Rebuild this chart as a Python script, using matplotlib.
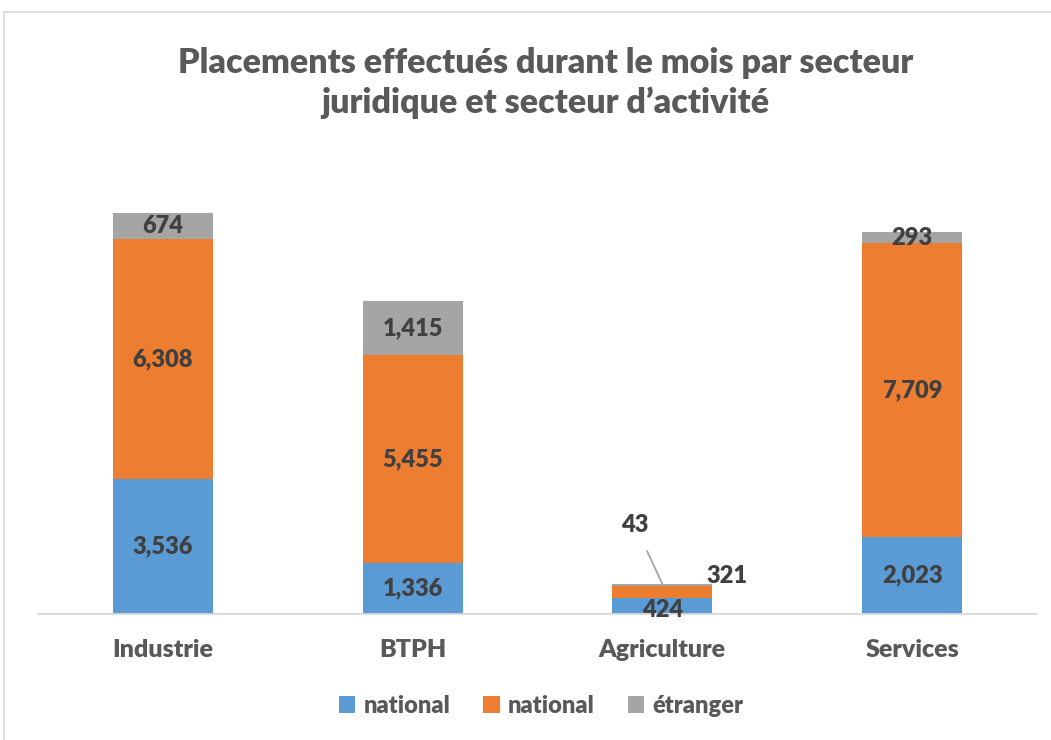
import matplotlib
matplotlib.use("Agg")
import matplotlib.pyplot as plt
from matplotlib.patches import Patch, Rectangle

categories = ["Industrie", "BTPH", "Agriculture", "Services"]
public_national = [3536, 1336, 424, 2023]
private_national = [6308, 5455, 321, 7709]
etranger = [674, 1415, 43, 293]
legend_labels = ["national", "national", "étranger"]

colors = ["#5B9BD5", "#ED7D31", "#A5A5A5"]
label_color = "#404040"
text_color = "#595959"

plt.rcParams["font.family"] = ["Lato", "DejaVu Sans"]
BOLD = "heavy"

fig = plt.figure(figsize=(10.51, 7.40), dpi=100)
ax = fig.add_axes([38 / 1051, 1 - 614 / 740, 999 / 1051, 457 / 740])

x = list(range(len(categories)))
width = 0.4
bottom2 = [a + b for a, b in zip(public_national, private_national)]
ax.bar(x, public_national, width, color=colors[0], zorder=2)
ax.bar(x, private_national, width, bottom=public_national, color=colors[1], zorder=2)
ax.bar(x, etranger, width, bottom=bottom2, color=colors[2], zorder=2)

lbl = dict(ha="center", va="center", fontsize=17, fontweight=BOLD, color=label_color)
for i in x:
    if categories[i] == "Agriculture":
        continue
    ax.text(i, public_national[i] / 2, f"{public_national[i]:,}", **lbl)
    ax.text(i, public_national[i] + private_national[i] / 2, f"{private_national[i]:,}", **lbl)
    ax.text(i, bottom2[i] + etranger[i] / 2, f"{etranger[i]:,}", **lbl)

# Agriculture: segments are too thin, labels moved around
i = categories.index("Agriculture")
ax.text(i, public_national[i] / 2 - 120, f"{public_national[i]:,}", **lbl)
ax.text(i + 0.26, public_national[i] + private_national[i] + 240, f"{private_national[i]:,}", **lbl)
ax.annotate(
    f"{etranger[i]:,}",
    xy=(i, bottom2[i] + etranger[i]),
    xytext=(i - 0.11, bottom2[i] + 1600),
    ha="center", va="center", fontsize=17, fontweight=BOLD, color=label_color,
    arrowprops=dict(arrowstyle="-", color="#A5A5A5", lw=1.3, shrinkA=10, shrinkB=0),
)

ax.set_xlim(-0.5, 3.5)
ax.set_ylim(0, 12000)
ax.set_xticks(x)
ax.set_xticklabels(categories, fontsize=18, fontweight=BOLD, color=text_color)
ax.tick_params(axis="x", length=0, pad=18)
ax.set_yticks([])
for s in ["top", "right", "left"]:
    ax.spines[s].set_visible(False)
ax.spines["bottom"].set_color("#D9D9D9")
ax.spines["bottom"].set_linewidth(1.3)

fig.suptitle(
    "Placements effectués durant le mois par secteur\njuridique et secteur d\u2019activité",
    x=0.519, y=1 - 47 / 740, va="top", fontsize=24.5, fontweight=BOLD,
    color=text_color, linespacing=1.3,
)

handles = [Patch(facecolor=c) for c in colors]
fig.legend(
    handles, legend_labels, loc="center", bbox_to_anchor=(0.515, 1 - 706 / 740),
    ncol=3, frameon=False, handlelength=0.7, handleheight=0.7,
    handletextpad=0.35, columnspacing=1.4,
    prop=dict(size=17, weight=BOLD), labelcolor=text_color,
)

# chart border
fig.patches.append(Rectangle((4 / 1051, -0.1), 1.2, 1 - 12 / 740 + 0.1,
                             transform=fig.transFigure, fill=False,
                             edgecolor="#D9D9D9", lw=1.2))

fig.savefig("out.png", dpi=100)
